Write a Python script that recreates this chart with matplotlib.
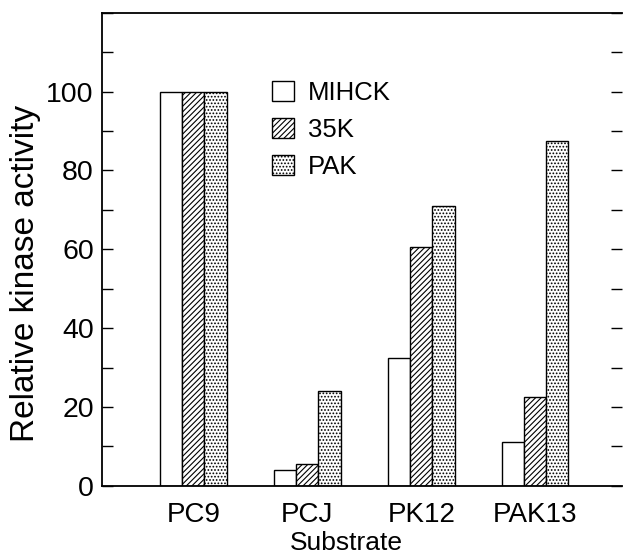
import numpy as np
import matplotlib
matplotlib.use("Agg")
import matplotlib.pyplot as plt
from matplotlib.patches import Patch
from matplotlib.ticker import MultipleLocator

plt.rcParams["font.family"] = ["Liberation Sans", "DejaVu Sans"]
plt.rcParams["hatch.linewidth"] = 0.8

substrates = ["PC9", "PCJ", "PK12", "PAK13"]
series = ["MIHCK", "35K", "PAK"]
mihck = [100, 3.9, 32.3, 11.0]
k35 = [100, 5.5, 60.5, 22.6]
pak = [100, 24.1, 70.9, 87.6]
values = [mihck, k35, pak]
hatches = [None, "//////", "....."]

fig = plt.figure(figsize=(6.23, 5.59), dpi=100)
ax = fig.add_axes([0.164, 0.131, 0.834, 0.846])

x = np.arange(len(substrates))
w = 0.195
for i, (vals, h) in enumerate(zip(values, hatches)):
    ax.bar(x + (i - 1) * w, vals, w, color="white", edgecolor="black",
           linewidth=1.0, hatch=h)

ax.set_xlim(-0.8, 3.76)
ax.set_ylim(0, 120)
ax.set_xticks(x)
ax.set_xticklabels(substrates, fontsize=20)
ax.tick_params(axis="x", length=0, pad=12)
ax.set_yticks([0, 20, 40, 60, 80, 100])
ax.yaxis.set_minor_locator(MultipleLocator(10))
ax.tick_params(axis="y", which="both", direction="in", length=8, width=1.0,
               labelsize=20.5, right=True, pad=6)
ax.set_xlabel("Substrate", fontsize=19)
ax.set_ylabel("Relative kinase activity", fontsize=24)
ax.xaxis.set_label_coords(0.47, -0.096)
ax.yaxis.set_label_coords(-0.118, 0.45)

ax.spines["right"].set_visible(False)
for s in ["left", "bottom", "top"]:
    ax.spines[s].set_linewidth(1.3)

handles = [Patch(facecolor="white", edgecolor="black", hatch=h, linewidth=1.0)
           for h in hatches]
ax.legend(handles, series, loc="upper left", bbox_to_anchor=(0.282, 0.905),
          frameon=False, fontsize=18.5, handlelength=0.85, handleheight=0.85,
          labelspacing=0.5, handletextpad=0.55)

fig.savefig("out.png", dpi=100)
